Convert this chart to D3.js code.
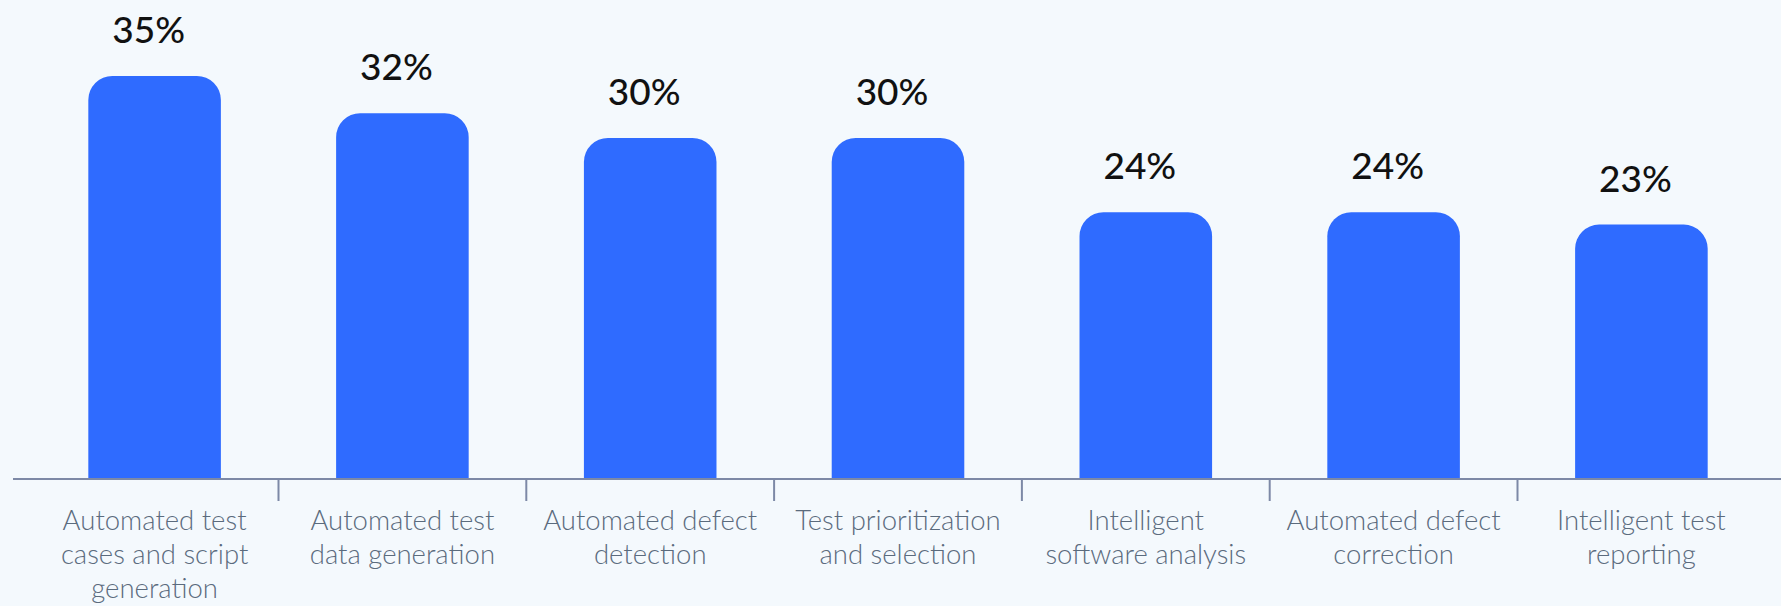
<!DOCTYPE html>
<html>
<head>
<meta charset="utf-8">
<script src="https://cdn.jsdelivr.net/npm/d3@7"></script>
<style>
  html, body { margin: 0; padding: 0; background: #f4f9fd; }
  svg { display: block; }
</style>
</head>
<body>
<svg id="chart" width="1781" height="606"></svg>
<script>
const categories = [
  "Automated test\ncases and script\ngeneration",
  "Automated test\ndata generation",
  "Automated defect\ndetection",
  "Test prioritization\nand selection",
  "Intelligent\nsoftware analysis",
  "Automated defect\ncorrection",
  "Intelligent test\nreporting"
];
const values = [35, 32, 30, 30, 24, 24, 23];
const valueLabels = ["35%", "32%", "30%", "30%", "24%", "24%", "23%"];

const W = 1781, H = 606;
const baseY = 478.5;
const svg = d3.select("#chart");

svg.append("rect").attr("width", W).attr("height", H).attr("fill", "#f4f9fd");

const x = d3.scaleBand()
  .domain(categories)
  .range([30.7, 1765.3])
  .paddingInner(0.465)
  .paddingOuter(0.2325);

const y = d3.scaleLinear()
  .domain([2.5, 35])
  .range([baseY, 76]);

const r = 24;
function barPath(x0, w, top, bottom) {
  const rr = Math.min(r, w / 2, bottom - top);
  return `M${x0},${bottom}V${top + rr}A${rr},${rr} 0 0 1 ${x0 + rr},${top}` +
         `H${x0 + w - rr}A${rr},${rr} 0 0 1 ${x0 + w},${top + rr}V${bottom}Z`;
}

const data = categories.map((c, i) => ({ c, v: values[i], label: valueLabels[i] }));

svg.append("g").selectAll("path")
  .data(data)
  .join("path")
  .attr("d", d => barPath(x(d.c), x.bandwidth(), y(d.v), baseY))
  .attr("fill", "#2f6bff");

// axis line
svg.append("line")
  .attr("x1", 13).attr("x2", W)
  .attr("y1", baseY + 0.5).attr("y2", baseY + 0.5)
  .attr("stroke", "#7d89a6").attr("stroke-width", 2);

// ticks at band boundaries
const step = x.step();
svg.append("g").selectAll("line")
  .data(categories.slice(1))
  .join("line")
  .attr("x1", d => x(d) - (step - x.bandwidth()) / 2)
  .attr("x2", d => x(d) - (step - x.bandwidth()) / 2)
  .attr("y1", baseY).attr("y2", 501)
  .attr("stroke", "#7d89a6").attr("stroke-width", 2);

// value labels
svg.append("g").selectAll("text")
  .data(data)
  .join("text")
  .attr("x", d => x(d.c) + x.bandwidth() / 2 - 6)
  .attr("y", d => y(d.v) - 33)
  .attr("text-anchor", "middle")
  .attr("font-family", "Lato, sans-serif")
  .attr("font-weight", 500)
  .attr("font-size", 37)
  .attr("fill", "#111")
  .text(d => d.label);

// category labels
const lab = svg.append("g").selectAll("text")
  .data(data)
  .join("text")
  .attr("text-anchor", "middle")
  .attr("font-family", "Lato, sans-serif")
  .attr("font-weight", 300)
  .attr("font-size", 27.5)
  .attr("fill", "#5b6b7d");
lab.each(function(d) {
  const t = d3.select(this);
  d.c.split("\n").forEach((line, i) => {
    t.append("tspan")
      .attr("x", x(d.c) + x.bandwidth() / 2)
      .attr("y", 530 + i * 34)
      .text(line);
  });
});
</script>
</body>
</html>
